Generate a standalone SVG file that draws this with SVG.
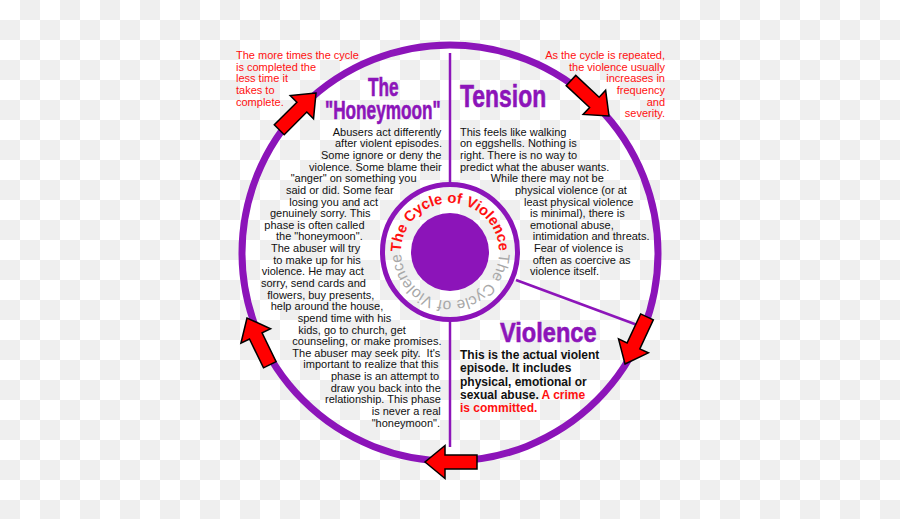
<svg xmlns="http://www.w3.org/2000/svg" xmlns:xlink="http://www.w3.org/1999/xlink" width="900" height="519" viewBox="0 0 900 519">
<style>
.body{font-family:"Liberation Sans",Arial,sans-serif;font-size:11px;fill:#111}
.note{font-family:"Liberation Sans",Arial,sans-serif;font-size:11px;fill:#ff1010}
.title{font-family:"Liberation Sans",Arial,sans-serif;font-weight:bold;fill:#8c14b9;stroke:#8c14b9;stroke-width:0.6}
.bold{font-family:"Liberation Sans",Arial,sans-serif;font-size:12px;font-weight:bold;fill:#111}
.crime{fill:#ff1010}
.arrow{fill:#ff0000;stroke:#000;stroke-width:1.5;stroke-linejoin:miter}
.line{stroke:#8c14b9;fill:none}
</style>
<defs>
<pattern id="checker" width="40" height="40" patternUnits="userSpaceOnUse">
<rect width="40" height="40" fill="#ffffff"/>
<rect x="20" y="0" width="20" height="20" fill="#efefef"/>
<rect x="0" y="20" width="20" height="20" fill="#efefef"/>
</pattern>
<path id="arrowShape" d="M0,0 L-20,-16.5 L-20,-7 L-52,-7 L-52,7 L-20,7 L-20,16.5 Z"/>
<path id="cyclePath" d="M401,252 A49,49 0 1,1 499,252 A49,49 0 1,1 401,252"/>
</defs>
<rect width="900" height="519" fill="url(#checker)"/>

<g id="connectors">
<circle class="line" cx="450" cy="253" r="208" stroke-width="7"/>
<line class="line" x1="450" y1="53" x2="450" y2="183" stroke-width="2.5"/>
<line class="line" x1="450" y1="321" x2="450" y2="447" stroke-width="2.5"/>
<line class="line" x1="516" y1="280" x2="640" y2="326" stroke-width="2.5"/>
<use xlink:href="#arrowShape" class="arrow" transform="translate(316,93) rotate(-45)"/>
<use xlink:href="#arrowShape" class="arrow" transform="translate(609,116) rotate(43)"/>
<use xlink:href="#arrowShape" class="arrow" transform="translate(625,364) rotate(115)"/>
<use xlink:href="#arrowShape" class="arrow" transform="translate(425,462) rotate(180)"/>
<use xlink:href="#arrowShape" class="arrow" transform="translate(247,318) rotate(244)"/>
</g>

<g id="center">
<circle cx="450" cy="252" r="67.5" fill="none" stroke="#8c14b9" stroke-width="5"/>
<circle cx="450" cy="252" r="39" fill="#8c14b9"/>
<text font-family="Liberation Sans, Arial, sans-serif" font-size="14.8" font-weight="bold" fill="#ff1010"><textPath xlink:href="#cyclePath" startOffset="0">The Cycle of Violence</textPath></text>
<text font-family="Liberation Sans, Arial, sans-serif" font-size="15.5" fill="#a8a8a8"><textPath xlink:href="#cyclePath" startOffset="155">The Cycle of Violence</textPath></text>
</g>

<g id="note-left">
<text class="note" x="236" y="59">The more times the cycle</text>
<text class="note" x="236" y="70.7">is completed the</text>
<text class="note" x="236" y="82.3">less time it</text>
<text class="note" x="236" y="94">takes to</text>
<text class="note" x="236" y="105.7">complete.</text>
</g>

<g id="note-right">
<text class="note" x="665" y="59" text-anchor="end">As the cycle is repeated,</text>
<text class="note" x="665" y="70.7" text-anchor="end">the violence usually</text>
<text class="note" x="665" y="82.3" text-anchor="end">increases in</text>
<text class="note" x="665" y="94" text-anchor="end">frequency</text>
<text class="note" x="665" y="105.7" text-anchor="end">and</text>
<text class="note" x="665" y="117.3" text-anchor="end">severity.</text>
</g>

<g id="honeymoon">
<text class="title" font-size="26.5" transform="scale(0.65,1)"><tspan x="566" y="96">The</tspan><tspan x="500" y="119">"Honeymoon"</tspan></text>
<text class="body" x="332.7" y="135.7">Abusers act differently</text>
<text class="body" x="335" y="147.3">after violent episodes.</text>
<text class="body" x="321" y="159">Some ignore or deny the</text>
<text class="body" x="309" y="170.6">violence. Some blame their</text>
<text class="body" x="290.7" y="182.2">"anger" on something you</text>
<text class="body" x="286" y="193.9">said or did. Some fear</text>
<text class="body" x="289.3" y="205.5">losing you and act</text>
<text class="body" x="270" y="217.1">genuinely sorry. This</text>
<text class="body" x="264.3" y="228.8">phase is often called</text>
<text class="body" x="276" y="240.4">the "honeymoon".</text>
<text class="body" x="271" y="252">The abuser will try</text>
<text class="body" x="273.3" y="263.7">to make up for his</text>
<text class="body" x="261.7" y="275.3">violence. He may act</text>
<text class="body" x="261" y="286.9">sorry, send cards and</text>
<text class="body" x="267.3" y="298.6">flowers, buy presents,</text>
<text class="body" x="270.7" y="310.2">help around the house,</text>
<text class="body" x="297.7" y="321.8">spend time with his</text>
<text class="body" x="298.3" y="333.5">kids, go to church, get</text>
<text class="body" x="292.3" y="345.1">counseling, or make promises.</text>
<text class="body" x="292.3" y="356.7">The abuser may seek pity.&#160; It's</text>
<text class="body" x="303.3" y="368.4">important to realize that this</text>
<text class="body" x="331" y="380">phase is an attempt to</text>
<text class="body" x="330.7" y="391.6">draw you back into the</text>
<text class="body" x="325" y="403.3">relationship. This phase</text>
<text class="body" x="371.7" y="414.9">is never a real</text>
<text class="body" x="371.7" y="426.5">"honeymoon".</text>
</g>

<g id="tension">
<text class="title" font-size="32" transform="translate(460,107) scale(0.717,1)" x="0" y="0">Tension</text>
<text class="body" x="460" y="135.7">This feels like walking</text>
<text class="body" x="460" y="147.3">on eggshells. Nothing is</text>
<text class="body" x="460" y="159">right. There is no way to</text>
<text class="body" x="460" y="170.6">predict what the abuser wants.</text>
<text class="body" x="490.7" y="182.2">While there may not be</text>
<text class="body" x="515" y="193.9">physical violence (or at</text>
<text class="body" x="524" y="205.5">least physical violence</text>
<text class="body" x="530" y="217.1">is minimal), there is</text>
<text class="body" x="530" y="228.8">emotional abuse,</text>
<text class="body" x="532.7" y="240.4">intimidation and threats.</text>
<text class="body" x="534" y="252">Fear of violence is</text>
<text class="body" x="532.7" y="263.7">often as coercive as</text>
<text class="body" x="530" y="275.3">violence itself.</text>
</g>

<g id="violence">
<text class="title" font-size="28" transform="translate(500,341.7) scale(0.842,1)" x="0" y="0">Violence</text>
<text class="bold" x="460" y="359">This is the actual violent</text>
<text class="bold" x="460" y="372.3">episode. It includes</text>
<text class="bold" x="460" y="385.6">physical, emotional or</text>
<text class="bold" x="460" y="398.9">sexual abuse. <tspan class="crime">A crime</tspan></text>
<text class="bold crime" x="460" y="412.2">is committed.</text>
</g>
</svg>
